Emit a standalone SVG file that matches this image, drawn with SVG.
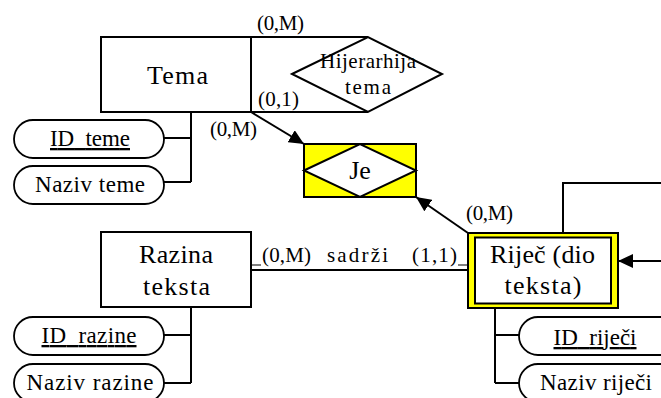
<svg xmlns="http://www.w3.org/2000/svg" width="661" height="398" viewBox="0 0 661 398">
<style>
text{font-family:"Liberation Serif","Times New Roman",serif;fill:#000}
.ent{fill:#fff;stroke:#000;stroke-width:2}
.attr{fill:#fff;stroke:#000;stroke-width:1.8}
.rel{fill:#fff;stroke:#000;stroke-width:2}
.ln{fill:none;stroke:#000;stroke-width:2}
.big{font-size:26px;text-anchor:middle}
.mid{font-size:23px;text-anchor:middle}
.lab{font-size:21px}
.u{text-decoration:underline}
</style>
<defs>
<marker id="ah" markerUnits="userSpaceOnUse" markerWidth="16" markerHeight="14" refX="15" refY="7" orient="auto">
<path d="M0,0 L15,7 L0,14 z" fill="#000"/>
</marker>
</defs>
<g id="connectors">
<polyline class="ln" points="191,112 191,182"/>
<line class="ln" x1="164" y1="138" x2="191" y2="138"/>
<line class="ln" x1="164" y1="182" x2="191" y2="182"/>
<line class="ln" x1="251" y1="37" x2="368" y2="37"/>
<line class="ln" x1="251" y1="112" x2="368" y2="112"/>
<line class="ln" x1="251" y1="112" x2="304" y2="144" marker-end="url(#ah)"/>
<line class="ln" x1="468" y1="233" x2="416" y2="197" marker-end="url(#ah)"/>
<line class="ln" x1="251" y1="270" x2="468" y2="270"/>
<line stroke="#000" stroke-width="1" x1="252" y1="265" x2="261" y2="265"/>
<line stroke="#000" stroke-width="1" x1="458" y1="265" x2="467" y2="265"/>
<polyline class="ln" points="563,232 563,183 661,183"/>
<line class="ln" x1="661" y1="261" x2="618" y2="261" marker-end="url(#ah)"/>
<polyline class="ln" points="191,307 191,383"/>
<line class="ln" x1="164" y1="335" x2="191" y2="335"/>
<line class="ln" x1="164" y1="383" x2="191" y2="383"/>
<polyline class="ln" points="495,308 495,383"/>
<line class="ln" x1="495" y1="335" x2="519" y2="335"/>
<line class="ln" x1="495" y1="383" x2="519" y2="383"/>
<text class="lab" x="257" y="30" textLength="47">(0,M)</text>
<text class="lab" x="258" y="106" textLength="41">(0,1)</text>
<text class="lab" x="210" y="136" textLength="47">(0,M)</text>
<text class="lab" x="466" y="220" textLength="47">(0,M)</text>
<text class="lab" x="262" y="262" textLength="49">(0,M)</text>
<text class="lab" x="327" y="262" textLength="61">sadrži</text>
<text class="lab" x="412" y="262" textLength="45">(1,1)</text>
</g>
<g id="tema">
<rect class="ent" x="101" y="37" width="150" height="75"/>
<text class="big" x="177.5" y="84" textLength="61">Tema</text>
</g>
<g id="hijerarhija-tema">
<polygon class="rel" points="292,74 368,37 442,74 368,112"/>
<text class="lab" x="368" y="68" text-anchor="middle" textLength="96">Hijerarhija</text>
<text class="lab" x="368" y="94" text-anchor="middle" textLength="46">tema</text>
</g>
<g id="id-teme">
<rect class="attr" x="14" y="120" width="150" height="38" rx="19"/>
<text class="mid u" x="90" y="146" textLength="80">ID_teme</text>
</g>
<g id="naziv-teme">
<rect class="attr" x="14" y="166" width="150" height="38" rx="19"/>
<text class="mid" x="90" y="192" textLength="110">Naziv teme</text>
</g>
<g id="je">
<rect x="304" y="144" width="112" height="53" fill="#ffff00" stroke="#000" stroke-width="2"/>
<polygon class="rel" points="304,170.5 360,144 416,170.5 360,197"/>
<text class="big" x="360" y="179">Je</text>
</g>
<g id="razina-teksta">
<rect class="ent" x="101" y="232" width="150" height="75"/>
<text class="big" x="176" y="263" textLength="74">Razina</text>
<text class="big" x="176.5" y="295" textLength="67">teksta</text>
</g>
<g id="id-razine">
<rect class="attr" x="14" y="317" width="150" height="38" rx="19"/>
<text class="mid u" x="89" y="343" textLength="95">ID_razine</text>
</g>
<g id="naziv-razine">
<rect class="attr" x="14" y="364" width="150" height="38" rx="19"/>
<text class="mid" x="90" y="390" textLength="127">Naziv razine</text>
</g>
<g id="rijec">
<rect x="468" y="233" width="150" height="75" fill="#ffff00" stroke="#000" stroke-width="2"/>
<rect x="475" y="237.5" width="136" height="66" fill="#fff" stroke="#000" stroke-width="2"/>
<text class="big" x="542.5" y="263" textLength="105">Riječ (dio</text>
<text class="big" x="543" y="294" textLength="77">teksta)</text>
</g>
<g id="id-rijeci">
<rect class="attr" x="519" y="317" width="200" height="38" rx="19"/>
<text class="mid u" x="595" y="345" textLength="83">ID_riječi</text>
</g>
<g id="naziv-rijeci">
<rect class="attr" x="519" y="364" width="200" height="38" rx="19"/>
<text class="mid" x="596" y="390" textLength="112">Naziv riječi</text>
</g>
</svg>
